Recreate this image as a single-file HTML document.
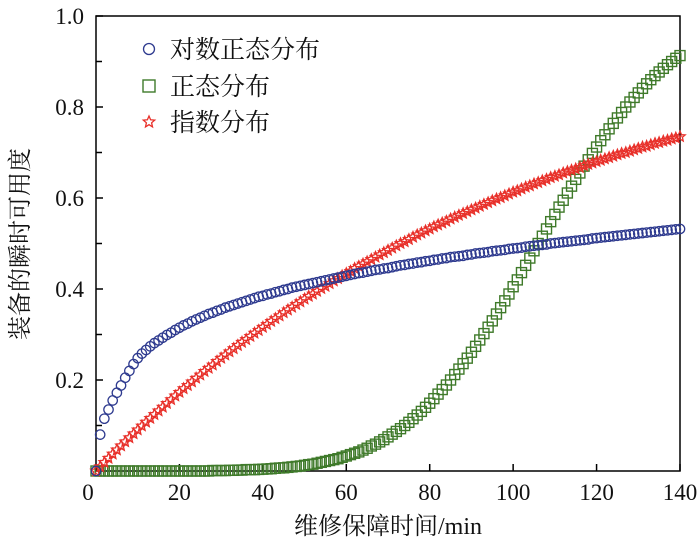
<!DOCTYPE html>
<html><head><meta charset="utf-8"><style>
html,body{margin:0;padding:0;background:#fff;}
svg{display:block;}
text{font-family:"Liberation Serif","Noto Serif CJK SC","Noto Sans CJK SC",serif;fill:#111;}
</style></head><body>
<svg id="chart" width="700" height="548" viewBox="0 0 700 548">
<g id="axes"></g>
<g id="series"></g>
<g id="legend"></g>
</svg>
<script>
const lognormalValues = [
0,0.08,0.115,0.135,0.155,0.172,0.188,0.205,0.22,0.235,
0.248,0.258,0.266,0.274,0.281,0.287,0.293,0.299,0.304,0.31,
0.315,0.32,0.324,0.329,0.333,0.337,0.341,0.345,0.348,0.352,
0.355,0.359,0.362,0.365,0.368,0.371,0.374,0.377,0.380,0.383,
0.385,0.388,0.390,0.393,0.395,0.398,0.400,0.403,0.405,0.407,
0.409,0.411,0.413,0.415,0.417,0.419,0.421,0.423,0.425,0.427,
0.429,0.431,0.433,0.435,0.436,0.438,0.440,0.442,0.443,0.445,
0.446,0.448,0.450,0.452,0.453,0.455,0.456,0.458,0.459,0.461,
0.462,0.464,0.465,0.467,0.468,0.470,0.471,0.472,0.473,0.475,
0.476,0.478,0.479,0.480,0.481,0.483,0.484,0.485,0.486,0.488,
0.489,0.490,0.491,0.493,0.494,0.495,0.496,0.497,0.498,0.500,
0.501,0.502,0.503,0.504,0.505,0.506,0.507,0.508,0.509,0.511,
0.512,0.513,0.514,0.515,0.516,0.517,0.518,0.519,0.520,0.521,
0.522,0.523,0.524,0.525,0.526,0.527,0.528,0.529,0.530,0.531,
0.532];
const normalValues = [
0,0,0,0,0,0,0,0,0,0,
0,0,0,0,0,0,0,0,0,0,
0,0,0,0,0,0,0,0,0.001,0.001,
0.001,0.001,0.0015,0.0015,0.002,0.002,0.003,0.003,0.003,0.0035,
0.004,0.0045,0.005,0.006,0.0066,0.007,0.008,0.009,0.010,0.011,
0.0125,0.014,0.015,0.017,0.019,0.021,0.023,0.025,0.027,0.030,
0.033,0.036,0.039,0.042,0.046,0.050,0.055,0.059,0.064,0.069,
0.075,0.081,0.087,0.093,0.100,0.107,0.115,0.123,0.131,0.140,
0.149,0.159,0.169,0.179,0.189,0.200,0.212,0.224,0.236,0.248,
0.261,0.274,0.288,0.302,0.316,0.330,0.345,0.359,0.374,0.389,
0.405,0.420,0.436,0.452,0.468,0.484,0.5,0.516,0.532,0.548,
0.564,0.580,0.595,0.611,0.626,0.641,0.655,0.670,0.684,0.698,
0.712,0.726,0.739,0.752,0.764,0.776,0.788,0.800,0.811,0.821,
0.831,0.841,0.851,0.860,0.869,0.877,0.885,0.893,0.900,0.907,
0.913];
const exponentialValues = [
0,0.0094,0.0188,0.0281,0.0373,0.0463,0.0553,0.0642,0.0731,0.0818,
0.0904,0.0990,0.1074,0.1158,0.1241,0.1323,0.1404,0.1486,0.157,0.165,
0.173,0.181,0.188,0.196,0.204,0.211,0.219,0.226,0.233,0.241,
0.248,0.255,0.262,0.269,0.276,0.283,0.289,0.296,0.303,0.309,
0.316,0.322,0.329,0.335,0.341,0.348,0.354,0.360,0.366,0.372,
0.378,0.384,0.389,0.395,0.401,0.406,0.412,0.418,0.423,0.429,
0.434,0.439,0.445,0.450,0.455,0.460,0.465,0.470,0.475,0.480,
0.485,0.490,0.495,0.500,0.504,0.509,0.514,0.519,0.523,0.528,
0.532,0.537,0.541,0.545,0.549,0.554,0.558,0.562,0.566,0.570,
0.574,0.578,0.582,0.586,0.590,0.594,0.598,0.601,0.605,0.609,
0.613,0.616,0.620,0.624,0.627,0.631,0.634,0.638,0.641,0.645,
0.648,0.651,0.655,0.658,0.661,0.664,0.667,0.671,0.674,0.677,
0.680,0.683,0.686,0.689,0.692,0.695,0.698,0.700,0.703,0.706,
0.709,0.712,0.714,0.717,0.720,0.722,0.725,0.727,0.730,0.732,
0.735];
const timeStart = 0;
const timeStepMinutes = 1;
const xTicks = [0,20,40,60,80,100,120,140];
const yTicks = [0.2,0.4,0.6,0.8,1.0];
const yMinorTicks = [0.1,0.3,0.5,0.7,0.9];
const legendLabels = ["对数正态分布","正态分布","指数分布"];

const NS="http://www.w3.org/2000/svg";
const L=96,R=680,T=16,B=471;
function xs(v){return L+(v/140)*(R-L);}
function ys(v){return B-v*(B-T);}
function mk(tag,attrs,parent){const e=document.createElementNS(NS,tag);for(const k in attrs)e.setAttribute(k,attrs[k]);parent.appendChild(e);return e;}
const axes=document.getElementById('axes'),series=document.getElementById('series'),legend=document.getElementById('legend');

let frame=mk('rect',{x:L,y:T,width:R-L,height:B-T,fill:'none',stroke:'#000','stroke-width':1.5},axes);


xTicks.forEach(v=>{
  let t=mk('line',{x1:xs(v),x2:xs(v),y1:B,y2:B-7,stroke:'#000','stroke-width':1.5},axes);
  
  
  let lb=mk('text',{x:v===0?xs(v)-8:xs(v),y:B+29,'text-anchor':'middle','font-size':23},axes);
  lb.textContent=String(v);
  
  
});
yTicks.forEach(v=>{
  let t=mk('line',{x1:L,x2:L+7,y1:ys(v),y2:ys(v),stroke:'#000','stroke-width':1.5},axes);
  
  
  let lb=mk('text',{x:L-12,y:ys(v)+8,'text-anchor':'end','font-size':23},axes);
  lb.textContent=v.toFixed(1);
  
  
});
yMinorTicks.forEach(v=>{
  let t=mk('line',{x1:L,x2:L+6,y1:ys(v),y2:ys(v),stroke:'#000','stroke-width':1.5},axes);
  
  
});
let xt=mk('text',{x:388,y:534,'text-anchor':'middle','font-size':24},axes);
xt.textContent='维修保障时间/min';


let yt=mk('text',{x:0,y:0,'text-anchor':'middle','font-size':24,transform:'translate(28,244) rotate(-90)'},axes);
yt.textContent='装备的瞬时可用度';



function circle(x,y,p,s){return mk('circle',{cx:x,cy:y,r:s||4.7,fill:'none',stroke:'#2e3a8f','stroke-width':1.3},p);}
function square(x,y,p,s){s=s||5;return mk('rect',{x:x-s,y:y-s,width:2*s,height:2*s,fill:'none',stroke:'#3f7a2a','stroke-width':1.4},p);}
function star(x,y,p,s){s=s||5.5;let pts=[];for(let i=0;i<10;i++){const r=i%2?s*0.45:s;const a=-Math.PI/2+i*Math.PI/5;pts.push((x+r*Math.cos(a)).toFixed(1)+','+(y+r*Math.sin(a)).toFixed(1));}
  return mk('polygon',{points:pts.join(' '),fill:'none',stroke:'#e8302a','stroke-width':1.3},p);}

const gN=mk('g',{},series);


const gE=mk('g',{},series);


const gL=mk('g',{},series);


lognormalValues.forEach((v,i)=>{
  let m=circle(xs(timeStart+i*timeStepMinutes),ys(v),gL);
  
  
});
normalValues.forEach((v,i)=>{
  let m=square(xs(timeStart+i*timeStepMinutes),ys(v),gN);
  
  
});
exponentialValues.forEach((v,i)=>{
  let m=star(xs(timeStart+i*timeStepMinutes),ys(v),gE);
  
  
});

const legY=[49,86,122];
legendLabels.forEach((lab,i)=>{
  const g=mk('g',{},legend);
  
  
  if(i===0)circle(149,legY[i],g,5.5);else if(i===1)square(149,legY[i],g,6);else star(149,legY[i],g,6);
  let tx=mk('text',{x:170,y:legY[i]+9,'font-size':25},g);
  tx.textContent=lab;
  
  
});
</script>
</body></html>
